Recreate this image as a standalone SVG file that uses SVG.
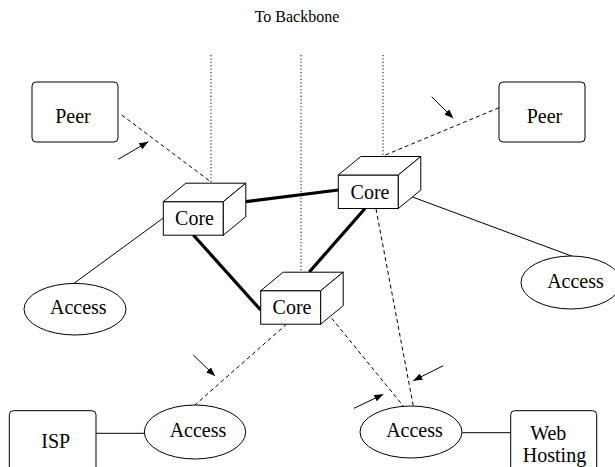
<svg xmlns="http://www.w3.org/2000/svg" width="615" height="467" viewBox="0 0 615 467">
  <defs>
    <style>
      text { font-family: 'Liberation Serif', 'DejaVu Serif', serif; fill: #000; text-anchor: middle; }
      .lbl { font-size: 20px; }
      .title { font-size: 16px; }
      .box { fill: #fff; stroke: #000; stroke-width: 1; }
      .solid { fill: none; stroke: #000; stroke-width: 1; }
      .trunk { fill: none; stroke: #000; stroke-width: 3.2; }
      .dash { fill: none; stroke: #000; stroke-width: 1; stroke-dasharray: 4 3; }
      .dot { fill: none; stroke: #000; stroke-width: 1; stroke-dasharray: 1.2 2.2; }
      .ptr { fill: none; stroke: #000; stroke-width: 1; marker-end: url(#head); }
    </style>
    <marker id="head" markerWidth="9" markerHeight="7" refX="9" refY="3.5" orient="auto" markerUnits="userSpaceOnUse">
      <path d="M0,0 L9,3.5 L0,7 z" fill="#000"/>
    </marker>
    <!-- router cube: front face, top face, side face -->
    <g id="cube">
      <rect class="box" x="0" y="0" width="60" height="33.5"/>
      <path class="box" d="M0,0 l22.5,-18.5 h60 l-22.5,18.5 z"/>
      <path class="box" d="M60,0 l22.5,-18.5 v33.5 l-22.5,18.5 z"/>
    </g>
  </defs>

  <rect width="615" height="467" fill="#fff"/>

  <text class="title" x="297" y="21.5" font-family="Liberation Serif, DejaVu Serif, serif">To Backbone</text>

  <g id="connectors">
    <!-- uplinks to the backbone -->
    <line class="dot" x1="211" y1="55" x2="211" y2="183"/>
    <line class="dot" x1="301" y1="55" x2="301" y2="272"/>
    <line class="dot" x1="383" y1="55" x2="383" y2="156"/>
    <!-- peering links -->
    <line class="dash" x1="121.7" y1="115" x2="211" y2="182"/>
    <line class="dash" x1="499" y1="107.7" x2="383" y2="156"/>
    <!-- core trunks -->
    <line class="trunk" x1="245.7" y1="201.7" x2="338.3" y2="190"/>
    <line class="trunk" x1="193.3" y1="235" x2="260.7" y2="310"/>
    <line class="trunk" x1="309.3" y1="272" x2="365" y2="208.5"/>
    <!-- access attachments -->
    <line class="solid" x1="163.3" y1="218" x2="74" y2="283.3"/>
    <line class="solid" x1="411.7" y1="196.7" x2="573.3" y2="256.7"/>
    <line class="dash" x1="286.7" y1="324" x2="195" y2="405"/>
    <line class="dash" x1="331.7" y1="318.3" x2="403.3" y2="406"/>
    <line class="dash" x1="376" y1="209" x2="413.3" y2="406"/>
    <line class="solid" x1="96" y1="433.3" x2="144.3" y2="433.3"/>
    <line class="solid" x1="462.3" y1="432.7" x2="510.7" y2="432.7"/>
    <!-- pointers -->
    <line class="ptr" x1="118.3" y1="159.3" x2="148.3" y2="141.7"/>
    <line class="ptr" x1="431.7" y1="96.7" x2="453.3" y2="118.3"/>
    <line class="ptr" x1="193.3" y1="355" x2="215" y2="376"/>
    <line class="ptr" x1="354" y1="408.3" x2="383.3" y2="394.3"/>
    <line class="ptr" x1="443.3" y1="365.7" x2="413.3" y2="380.7"/>
  </g>

  <g id="peer-left">
    <rect class="box" x="32" y="82" width="86" height="60" rx="4"/>
    <text class="lbl" x="73" y="123">Peer</text>
  </g>
  <g id="peer-right">
    <rect class="box" x="499" y="82" width="86" height="60" rx="4"/>
    <text class="lbl" x="544.5" y="123">Peer</text>
  </g>

  <g id="core-left">
    <use href="#cube" x="163.3" y="201.7"/>
    <text class="lbl" x="194.5" y="224.5">Core</text>
  </g>
  <g id="core-right">
    <use href="#cube" x="338.3" y="175"/>
    <text class="lbl" x="370" y="199">Core</text>
  </g>
  <g id="core-bottom">
    <use href="#cube" x="260.7" y="290.7"/>
    <text class="lbl" x="292" y="313.5">Core</text>
  </g>

  <g id="access-left">
    <ellipse class="box" cx="75" cy="309.2" rx="51" ry="25.8"/>
    <text class="lbl" x="78.3" y="314">Access</text>
  </g>
  <g id="access-right">
    <ellipse class="box" cx="571" cy="282.5" rx="50" ry="26.5"/>
    <text class="lbl" x="575.5" y="287.5">Access</text>
  </g>
  <g id="access-isp">
    <ellipse class="box" cx="195" cy="432" rx="50.7" ry="27"/>
    <text class="lbl" x="198" y="436.7">Access</text>
  </g>
  <g id="access-web">
    <ellipse class="box" cx="411" cy="432" rx="51" ry="26"/>
    <text class="lbl" x="414.5" y="436.7">Access</text>
  </g>

  <g id="isp">
    <rect class="box" x="9.3" y="410.7" width="86.7" height="70" rx="4"/>
    <text class="lbl" x="55.7" y="448.3">ISP</text>
  </g>
  <g id="web-hosting">
    <rect class="box" x="510.7" y="410.7" width="86" height="70" rx="4"/>
    <text class="lbl" x="548.3" y="440">Web</text>
    <text class="lbl" x="554.5" y="461.7">Hosting</text>
  </g>
</svg>
